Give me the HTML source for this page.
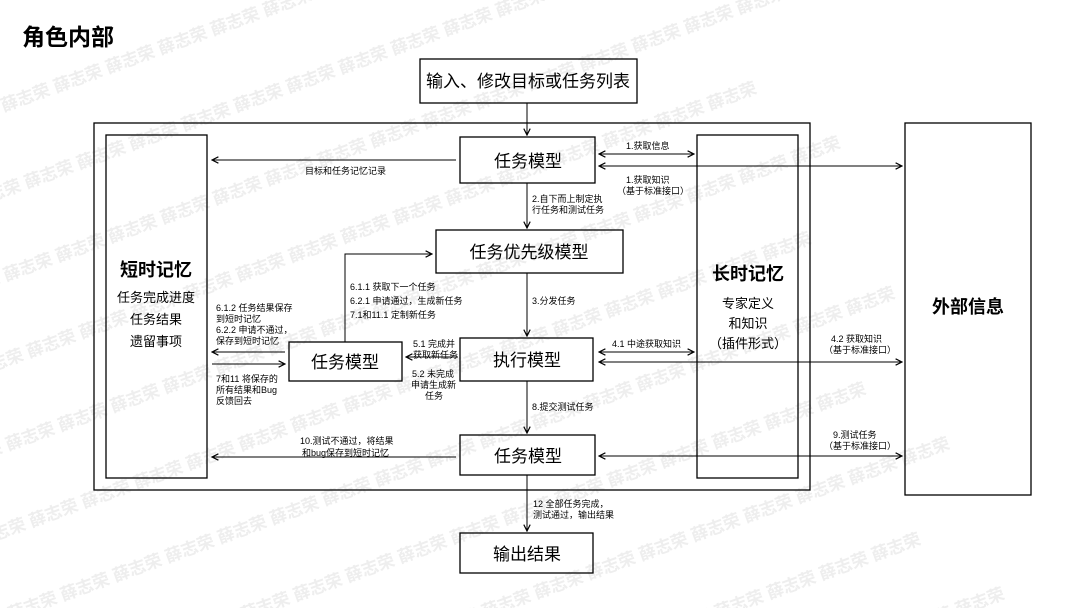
<!DOCTYPE html>
<html><head><meta charset="utf-8"><style>
html,body{margin:0;background:#fff;width:1080px;height:608px;overflow:hidden}
svg{display:block;font-family:"Liberation Sans","Noto Sans CJK SC",sans-serif}
</style></head><body>
<svg width="1080" height="608" viewBox="0 0 1080 608" xmlns="http://www.w3.org/2000/svg">
<defs>
<marker id="a" viewBox="0 0 10 10" refX="9" refY="5" markerWidth="8" markerHeight="8" orient="auto-start-reverse"><path d="M1,1 L9,5 L1,9" fill="none" stroke="#000" stroke-width="1.5"/></marker>
</defs>
<g fill="#eeeeee" font-size="17" font-weight="bold">
<g transform="rotate(-20 540 304)">
<text x="-400" y="-60">薛志荣 薛志荣 薛志荣 薛志荣 薛志荣 薛志荣 薛志荣 薛志荣 薛志荣 薛志荣 薛志荣 薛志荣 薛志荣 薛志荣 薛志荣 薛志荣 薛志荣 薛志荣 薛志荣 薛志荣 薛志荣 薛志荣 薛志荣</text>
<text x="-460" y="20">薛志荣 薛志荣 薛志荣 薛志荣 薛志荣 薛志荣 薛志荣 薛志荣 薛志荣 薛志荣 薛志荣 薛志荣 薛志荣 薛志荣 薛志荣 薛志荣 薛志荣 薛志荣 薛志荣 薛志荣 薛志荣 薛志荣 薛志荣</text>
<text x="-400" y="100">薛志荣 薛志荣 薛志荣 薛志荣 薛志荣 薛志荣 薛志荣 薛志荣 薛志荣 薛志荣 薛志荣 薛志荣 薛志荣 薛志荣 薛志荣 薛志荣 薛志荣 薛志荣 薛志荣 薛志荣 薛志荣 薛志荣 薛志荣</text>
<text x="-460" y="180">薛志荣 薛志荣 薛志荣 薛志荣 薛志荣 薛志荣 薛志荣 薛志荣 薛志荣 薛志荣 薛志荣 薛志荣 薛志荣 薛志荣 薛志荣 薛志荣 薛志荣 薛志荣 薛志荣 薛志荣 薛志荣 薛志荣 薛志荣</text>
<text x="-400" y="260">薛志荣 薛志荣 薛志荣 薛志荣 薛志荣 薛志荣 薛志荣 薛志荣 薛志荣 薛志荣 薛志荣 薛志荣 薛志荣 薛志荣 薛志荣 薛志荣 薛志荣 薛志荣 薛志荣 薛志荣 薛志荣 薛志荣 薛志荣</text>
<text x="-460" y="340">薛志荣 薛志荣 薛志荣 薛志荣 薛志荣 薛志荣 薛志荣 薛志荣 薛志荣 薛志荣 薛志荣 薛志荣 薛志荣 薛志荣 薛志荣 薛志荣 薛志荣 薛志荣 薛志荣 薛志荣 薛志荣 薛志荣 薛志荣</text>
<text x="-400" y="420">薛志荣 薛志荣 薛志荣 薛志荣 薛志荣 薛志荣 薛志荣 薛志荣 薛志荣 薛志荣 薛志荣 薛志荣 薛志荣 薛志荣 薛志荣 薛志荣 薛志荣 薛志荣 薛志荣 薛志荣 薛志荣 薛志荣 薛志荣</text>
<text x="-460" y="500">薛志荣 薛志荣 薛志荣 薛志荣 薛志荣 薛志荣 薛志荣 薛志荣 薛志荣 薛志荣 薛志荣 薛志荣 薛志荣 薛志荣 薛志荣 薛志荣 薛志荣 薛志荣 薛志荣 薛志荣 薛志荣 薛志荣 薛志荣</text>
<text x="-400" y="580">薛志荣 薛志荣 薛志荣 薛志荣 薛志荣 薛志荣 薛志荣 薛志荣 薛志荣 薛志荣 薛志荣 薛志荣 薛志荣 薛志荣 薛志荣 薛志荣 薛志荣 薛志荣 薛志荣 薛志荣 薛志荣 薛志荣 薛志荣</text>
<text x="-460" y="660">薛志荣 薛志荣 薛志荣 薛志荣 薛志荣 薛志荣 薛志荣 薛志荣 薛志荣 薛志荣 薛志荣 薛志荣 薛志荣 薛志荣 薛志荣 薛志荣 薛志荣 薛志荣 薛志荣 薛志荣 薛志荣 薛志荣 薛志荣</text>
<text x="-400" y="740">薛志荣 薛志荣 薛志荣 薛志荣 薛志荣 薛志荣 薛志荣 薛志荣 薛志荣 薛志荣 薛志荣 薛志荣 薛志荣 薛志荣 薛志荣 薛志荣 薛志荣 薛志荣 薛志荣 薛志荣 薛志荣 薛志荣 薛志荣</text>
</g></g>
<text x="22" y="45" font-size="23" font-weight="bold">角色内部</text>
<g fill="none" stroke="#000" stroke-width="1.3">
<rect x="94" y="123" width="716" height="367"/>
<rect x="106" y="135" width="101" height="343"/>
<rect x="697" y="135" width="101" height="343"/>
<rect x="905" y="123" width="126" height="372"/>
<rect x="420" y="59" width="217" height="44"/>
<rect x="460" y="137" width="135" height="46"/>
<rect x="436" y="230" width="187" height="43"/>
<rect x="460" y="338" width="133" height="43"/>
<rect x="289" y="342" width="113" height="39"/>
<rect x="460" y="435" width="135" height="40"/>
<rect x="460" y="533" width="133" height="40"/>
</g>
<g fill="none" stroke="#000" stroke-width="1" marker-end="url(#a)">
<path d="M527 103 V135"/>
<path d="M456 160 H212"/>
<path d="M527 183 V228"/>
<path d="M527 273 V336"/>
<path d="M527 381 V433"/>
<path d="M527 475 V531"/>
<path d="M458 357 H406"/>
<path d="M345 342 V254 H432"/>
<path d="M285 352 H212"/>
<path d="M212 364 H285"/>
<path d="M456 457 H212"/>
<path d="M599 154 H694" marker-start="url(#a)"/>
<path d="M599 166 H902" marker-start="url(#a)"/>
<path d="M599 352 H694" marker-start="url(#a)"/>
<path d="M599 362 H902" marker-start="url(#a)"/>
<path d="M599 456 H902" marker-start="url(#a)"/>
</g>
<g font-size="17" text-anchor="middle">
<text x="528" y="87">输入、修改目标或任务列表</text>
<text x="528" y="167">任务模型</text>
<text x="529" y="258">任务优先级模型</text>
<text x="527" y="366">执行模型</text>
<text x="345" y="368">任务模型</text>
<text x="528" y="462">任务模型</text>
<text x="527" y="560">输出结果</text>
<text x="156" y="276" font-weight="bold" font-size="18">短时记忆</text>
<text x="748" y="280" font-weight="bold" font-size="18">长时记忆</text>
<text x="968" y="313" font-weight="bold" font-size="18">外部信息</text>
</g>
<g font-size="13" text-anchor="middle">
<text x="156" y="302">任务完成进度</text>
<text x="156" y="324">任务结果</text>
<text x="156" y="346">遗留事项</text>
<text x="748" y="308">专家定义</text>
<text x="748" y="328">和知识</text>
<text x="748" y="348">（插件形式）</text>
</g>
<g font-size="9">
<text x="305" y="174">目标和任务记忆记录</text>
<text x="626" y="149">1.获取信息</text>
<text x="626" y="183">1.获取知识</text>
<text x="617" y="194">（基于标准接口）</text>
<text x="532" y="202">2.自下而上制定执</text>
<text x="532" y="213">行任务和测试任务</text>
<text x="532" y="304">3.分发任务</text>
<text x="350" y="290">6.1.1 获取下一个任务</text>
<text x="350" y="304">6.2.1 申请通过，生成新任务</text>
<text x="350" y="318">7.1和11.1 定制新任务</text>
<text x="216" y="311">6.1.2 任务结果保存</text>
<text x="216" y="322">到短时记忆</text>
<text x="216" y="333">6.2.2 申请不通过，</text>
<text x="216" y="344">保存到短时记忆</text>
<text x="216" y="382">7和11 将保存的</text>
<text x="216" y="393">所有结果和Bug</text>
<text x="216" y="404">反馈回去</text>
<text x="413" y="347">5.1 完成并</text>
<text x="413" y="358">获取新任务</text>
<text x="412" y="377">5.2 未完成</text>
<text x="411" y="388">申请生成新</text>
<text x="425" y="399">任务</text>
<text x="612" y="347">4.1 中途获取知识</text>
<text x="831" y="342">4.2 获取知识</text>
<text x="824" y="353">（基于标准接口）</text>
<text x="532" y="410">8.提交测试任务</text>
<text x="300" y="444">10.测试不通过，将结果</text>
<text x="302" y="456">和bug保存到短时记忆</text>
<text x="833" y="438">9.测试任务</text>
<text x="824" y="449">（基于标准接口）</text>
<text x="533" y="507">12 全部任务完成，</text>
<text x="533" y="518">测试通过，输出结果</text>
</g>
</svg>
</body></html>
